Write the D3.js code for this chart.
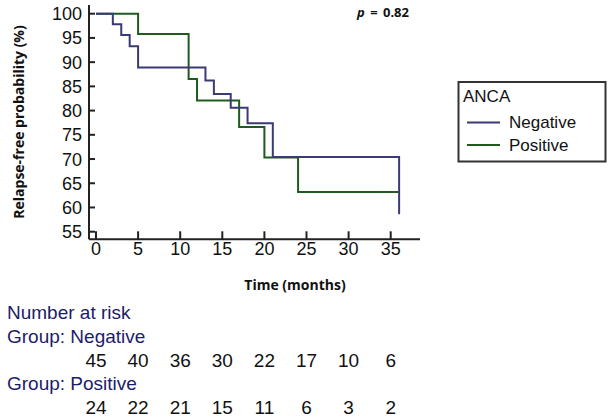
<!DOCTYPE html>
<html><head><meta charset="utf-8">
<script src="https://cdn.jsdelivr.net/npm/d3@7"></script>
<style>
body{margin:0;background:#fff;}
svg{display:block;}
</style></head>
<body>
<svg id="c" width="608" height="419"></svg>
<script>
const negTimes = [0, 2, 3, 4, 5, 13, 14, 16, 18, 21, 36];
const negSurv  = [100, 97.8, 95.6, 93.3, 88.9, 86.2, 83.4, 80.6, 77.4, 70.4, 58.6];
const posTimes = [0, 5, 11, 12, 17, 20, 24, 36];
const posSurv  = [100, 95.8, 86.5, 82.1, 76.6, 70.3, 63.2, 63.2];
const xTicks = [0, 5, 10, 15, 20, 25, 30, 35];
const yTicks = [55, 60, 65, 70, 75, 80, 85, 90, 95, 100];
const riskTimes = [0, 5, 10, 15, 20, 25, 30, 35];
const negRisk = [45, 40, 36, 30, 22, 17, 10, 6];
const posRisk = [24, 22, 21, 15, 11, 6, 3, 2];
const groups = ["Negative", "Positive"];
const colors = ["#3a3a76", "#1f5a1f"];

const svg = d3.select("#c");
const x = d3.scaleLinear().domain([0, 35]).range([96, 390.7]);
const y = d3.scaleLinear().domain([55, 100]).range([231.7, 13.7]);
const axisX0 = 89, axisX1 = 420, axisY0 = 239.3, axisYTop = 5;
const sans = "'Liberation Sans', Arial, sans-serif";
const bold = "'Open Sans', sans-serif";

// axes lines
const ax = svg.append("g").attr("stroke", "#222").attr("stroke-width", 2).attr("fill", "none");
ax.append("line").attr("x1", axisX0).attr("x2", axisX0).attr("y1", axisYTop).attr("y2", axisY0);
ax.append("line").attr("x1", axisX0).attr("x2", axisX1).attr("y1", axisY0).attr("y2", axisY0);

// y ticks
const yg = svg.append("g");
yTicks.forEach(v => {
  yg.append("line").attr("x1", axisX0).attr("x2", axisX0 + 6).attr("y1", y(v)).attr("y2", y(v))
    .attr("stroke", "#222").attr("stroke-width", 2);
  yg.append("text").attr("x", 82).attr("y", y(v)).attr("dy", "0.36em").attr("text-anchor", "end")
    .attr("font-family", sans).attr("font-size", 18).attr("fill", "#111").text(v);
});
// x ticks
const xg = svg.append("g");
xTicks.forEach(v => {
  xg.append("line").attr("x1", x(v)).attr("x2", x(v)).attr("y1", axisY0).attr("y2", axisY0 - 8)
    .attr("stroke", "#222").attr("stroke-width", 2);
  xg.append("text").attr("x", x(v)).attr("y", 255).attr("text-anchor", "middle")
    .attr("font-family", sans).attr("font-size", 18).attr("fill", "#111").text(v);
});

// axis titles
svg.append("text").attr("x", 295).attr("y", 289.5).attr("text-anchor", "middle")
  .attr("font-family", bold).attr("font-weight", "bold").attr("font-size", 14).attr("fill", "#111")
  .text("Time (months)");
svg.append("text").attr("transform", "translate(24,122) rotate(-90)").attr("text-anchor", "middle")
  .attr("font-family", bold).attr("font-weight", "bold").attr("font-size", 14).attr("fill", "#111")
  .text("Relapse-free probability (%)");

// p value
const pt = svg.append("text").attr("x", 409).attr("y", 16.5).attr("text-anchor", "end")
  .attr("font-family", bold).attr("font-weight", "bold").attr("font-size", 13).attr("fill", "#111")
  .attr("word-spacing", 2);
pt.append("tspan").attr("font-style", "italic").text("p");
pt.append("tspan").text(" = 0.82");

// curves
const line = d3.line().x(d => x(d[0])).y(d => y(d[1])).curve(d3.curveStepAfter);
const series = [negTimes.map((t, i) => [t, negSurv[i]]), posTimes.map((t, i) => [t, posSurv[i]])];
[1, 0].forEach(k => {
  svg.append("path").datum(series[k]).attr("d", line).attr("fill", "none")
    .attr("stroke", colors[k]).attr("stroke-width", 2);
});

// legend
const lg = svg.append("g");
lg.append("rect").attr("x", 458.5).attr("y", 82).attr("width", 147).attr("height", 79.5)
  .attr("fill", "#fff").attr("stroke", "#333").attr("stroke-width", 2);
lg.append("text").attr("x", 463).attr("y", 102).attr("font-family", sans).attr("font-size", 17)
  .attr("fill", "#111").text("ANCA");
groups.forEach((g, i) => {
  const yy = 122.5 + i * 22.5;
  lg.append("line").attr("x1", 467).attr("x2", 500).attr("y1", yy).attr("y2", yy)
    .attr("stroke", colors[i]).attr("stroke-width", 2);
  lg.append("text").attr("x", 509).attr("y", yy + 5.5).attr("font-family", sans).attr("font-size", 17)
    .attr("fill", "#111").text(g);
});

// number at risk
const rk = svg.append("g").attr("font-family", sans);
const navy = "#1c1c6a";
rk.append("text").attr("x", 7).attr("y", 319).attr("font-size", 19).attr("fill", navy).text("Number at risk");
const risks = [negRisk, posRisk];
groups.forEach((g, i) => {
  const base = 343 + i * 47;
  rk.append("text").attr("x", 7).attr("y", base).attr("font-size", 19).attr("fill", navy).text("Group: " + g);
  riskTimes.forEach((t, j) => {
    rk.append("text").attr("x", x(t)).attr("y", base + 23.5).attr("text-anchor", "middle")
      .attr("font-size", 19).attr("fill", "#111").text(risks[i][j]);
  });
});
</script>
</body></html>
